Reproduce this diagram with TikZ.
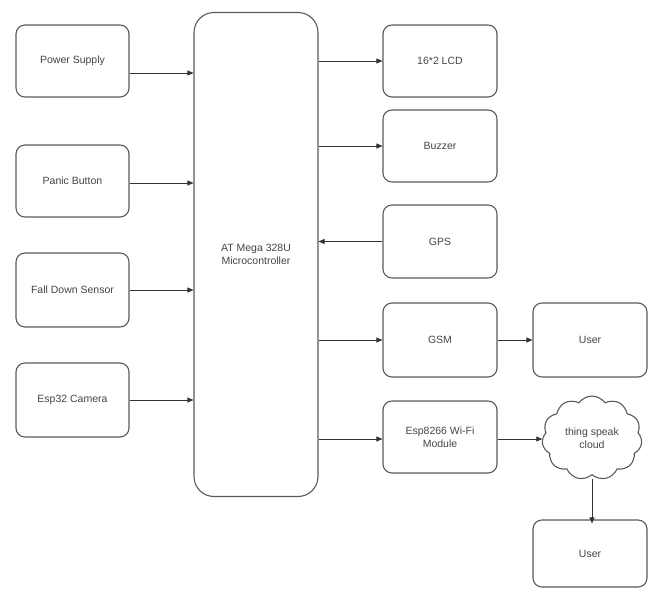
\documentclass[tikz,border=0pt]{standalone}
\usepackage{fontspec}
\setmainfont{Liberation Sans}
\usetikzlibrary{arrows.meta,shapes.symbols}
\definecolor{edge}{HTML}{5A5A5A}
\definecolor{txt}{HTML}{454545}
\begin{document}
\begin{tikzpicture}[x=1pt,y=-1pt,
  blk/.style={draw=edge,line width=1.1pt,rounded corners=9pt,fill=white,
    minimum width=113pt,minimum height=72pt,inner sep=1pt,align=center,
    text=txt,font=\fontsize{10.5}{12.5}\selectfont},
  conn/.style={draw=black!80,line width=0.9pt,-{Triangle[length=6pt,width=5pt]}}]
\useasboundingbox (0,0) rectangle (654,589);
\node[blk] (power) at (72.5,61) {Power Supply};
\node[blk] (panic) at (72.5,181) {Panic Button};
\node[blk,minimum height=74pt] (fall) at (72.5,290) {Fall Down Sensor};
\node[blk,minimum height=74pt] (cam) at (72.5,400) {Esp32 Camera};
\node[blk,minimum width=124pt,minimum height=484pt,rounded corners=20pt] (mcu) at (256,254.5) {AT Mega 328U\\Microcontroller};
\node[blk,minimum width=114pt] (lcd) at (440,61) {16*2 LCD};
\node[blk,minimum width=114pt] (buz) at (440,146) {Buzzer};
\node[blk,minimum width=114pt,minimum height=73pt] (gps) at (440,241.5) {GPS};
\node[blk,minimum width=114pt,minimum height=74pt] (gsm) at (440,340) {GSM};
\node[blk,minimum width=114pt] (esp) at (440,437) {Esp8266 Wi-Fi\\Module};
\node[blk,minimum width=114pt,minimum height=74pt] (user1) at (590,340) {User};
\node[draw=edge,line width=1.1pt,cloud,cloud puffs=11,cloud puff arc=110,aspect=1.3,
  minimum width=100pt,minimum height=84pt,inner sep=0pt,align=center,text=txt,
  font=\fontsize{10.5}{12.5}\selectfont] (cloud) at (592,438) {thing speak\\cloud};
\node[blk,minimum width=114pt,minimum height=67pt] (user2) at (590,553.5) {User};
\draw[conn] ([yshift=-12pt]power.east) -- ([yshift=-12pt]power.east -| mcu.west);
\draw[conn] ([yshift=-2pt]panic.east) -- ([yshift=-2pt]panic.east -| mcu.west);
\draw[conn] (fall.east) -- (fall.east -| mcu.west);
\draw[conn] (cam.east) -- (cam.east -| mcu.west);
\draw[conn] (mcu.east |- lcd.west) -- (lcd.west);
\draw[conn] (mcu.east |- buz.west) -- (buz.west);
\draw[conn] (gps.west) -- (mcu.east |- gps.west);
\draw[conn] (mcu.east |- gsm.west) -- (gsm.west);
\draw[conn] ([yshift=-2pt]mcu.east |- esp.west) -- ([yshift=-2pt]esp.west);
\draw[conn] (gsm.east) -- (user1.west);
\draw[conn] ([yshift=-2pt]esp.east) -- ([yshift=-2pt]esp.east -| cloud.west);
\draw[conn] ([yshift=-4pt]cloud.south) -- ([yshift=-4pt]cloud.south |- user2.north);
\end{tikzpicture}
\end{document}
